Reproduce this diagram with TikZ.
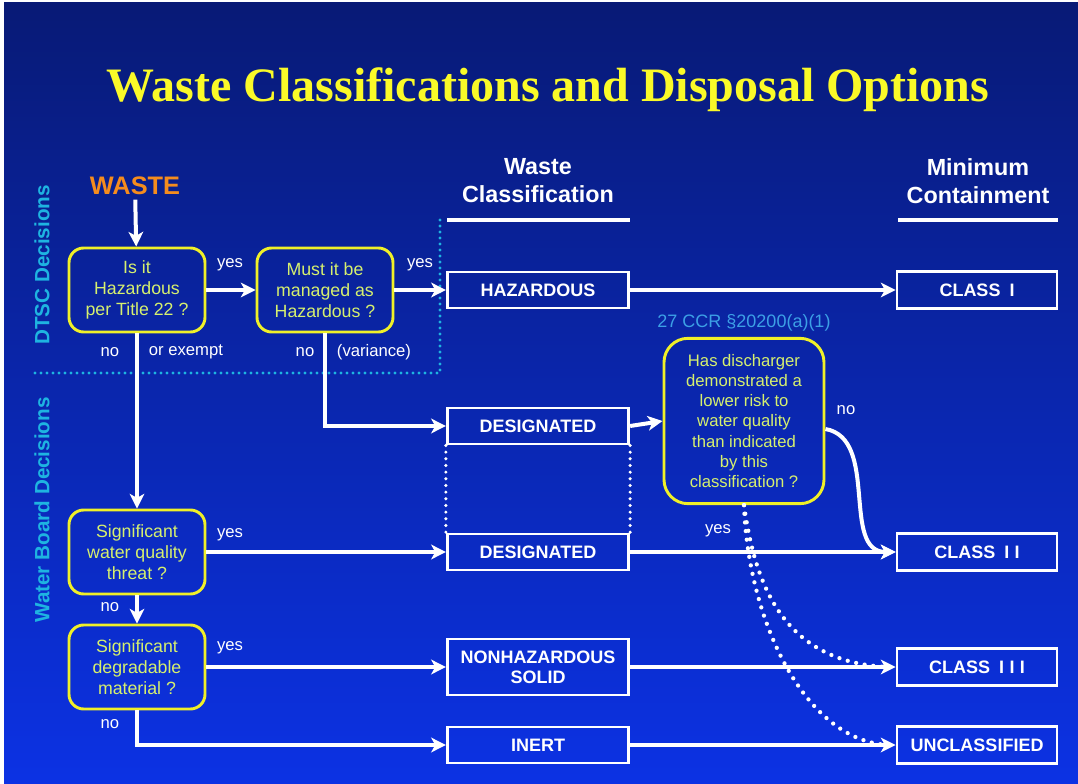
\documentclass[tikz,border=0pt]{standalone}
\usepackage{fontspec}
\setmainfont{Liberation Sans}
\newfontfamily\titlefont{Liberation Serif}
\usetikzlibrary{arrows.meta}
\definecolor{bgtop}{RGB}{8,26,118}
\definecolor{bgbot}{RGB}{12,50,228}
\definecolor{qtext}{RGB}{214,240,110}
\definecolor{qframe}{RGB}{240,240,40}
\definecolor{titleyel}{RGB}{250,250,40}
\definecolor{wasteor}{RGB}{245,140,30}
\definecolor{zonecyan}{RGB}{30,180,225}
\definecolor{refblue}{RGB}{60,160,230}

\begin{document}
\begin{tikzpicture}[
    x=0.75pt,y=-0.75pt,
    question/.style={draw=qframe,line width=2.2pt,rounded corners=11pt,
                     text=qtext,align=center,inner sep=2pt,
                     font={\fontsize{13.3}{15.5}\selectfont},
                     minimum width=102pt,minimum height=63pt},
    classbox/.style={draw=white,line width=2.2pt,text=white,align=center,
                     font={\fontsize{13.5}{15}\selectfont\bfseries},
                     minimum width=136pt,minimum height=27pt,inner sep=1pt},
    containbox/.style={classbox,minimum width=120pt,minimum height=28pt},
    flow/.style={draw=white,line width=3pt,
                 -{Stealth[length=11pt,width=11pt,inset=3pt]}},
    dotline/.style={draw=white,line width=2.6pt,line cap=round,
                    dash pattern=on 0pt off 5pt},
    dotcurve/.style={dotline,line width=3.2pt,dash pattern=on 0pt off 6.5pt},
    zoneline/.style={draw=zonecyan,line width=2.6pt,line cap=round,
                     dash pattern=on 0pt off 4.5pt},
    answer/.style={text=white,font={\fontsize{12.5}{15}\selectfont}},
    header/.style={text=white,align=center,
                   font={\fontsize{17.5}{21}\selectfont\bfseries}},
    zone/.style={rotate=90,text=zonecyan,
                 font={\fontsize{15.5}{18}\selectfont\bfseries}},
  ]
  % Background
  \fill[white] (0,0) rectangle (1078,784);
  \shade[top color=bgtop,bottom color=bgbot] (4,3) rectangle (1078,784);
  \useasboundingbox (0,0) rectangle (1078,784);

  % Title and column heads
  \node[text=titleyel,font={\titlefont\bfseries\fontsize{36}{40}\selectfont}] (title) at (548,90)
    {Waste Classifications and Disposal Options};
  \node[header] (hclass) at (538,181) {Waste\\Classification};
  \node[header] (hcontain) at (978,181) {Minimum\\Containment};
  \draw[white,line width=3pt] (447,220) -- (630,220);
  \draw[white,line width=3pt] (898,220) -- (1058,220);

  % Decision zones
  \node[zone] (dtsc) at (42,265) {DTSC Decisions};
  \node[zone] (wboard) at (42,510) {Water Board Decisions};
  \draw[zoneline] (35,373) -- (440,373) -- (440,218);

  % Questions
  \node[text=wasteor,font={\fontsize{19}{22}\selectfont\bfseries}] (waste) at (135,186) {WASTE};
  \node[question] (hazq) at (137,290) {Is it\\Hazardous\\per Title 22 ?};
  \node[question] (mgdq) at (325,290) {Must it be\\managed as\\Hazardous ?};
  \node[question] (wqt) at (137,552) {Significant\\water quality\\threat ?};
  \node[question] (degr) at (137,667) {Significant\\degradable\\material ?};
  \node[question,minimum width=120pt,minimum height=124pt,rounded corners=18pt,
        font={\fontsize{12.5}{15.2}\selectfont}] (risk) at (744,421)
    {Has discharger\\demonstrated a\\lower risk to\\water quality\\than indicated\\by this\\classification ?};
  \node[text=refblue,font={\fontsize{13.5}{15}\selectfont}] (ccr) at (744,323) {27 CCR §20200(a)(1)};

  % Waste classification
  \node[classbox] (haz) at (538,290) {HAZARDOUS};
  \node[classbox] (desa) at (538,426) {DESIGNATED};
  \node[classbox] (desb) at (538,552) {DESIGNATED};
  \node[classbox,minimum height=42pt] (nonhaz) at (538,667) {NONHAZARDOUS\\SOLID};
  \node[classbox] (inert) at (538,745) {INERT};

  % Minimum containment
  \node[containbox] (cla) at (977,290) {CLASS\hspace{0.5em}I};
  \node[containbox] (clb) at (977,552) {CLASS\hspace{0.5em}I\hspace{0.3em}I};
  \node[containbox] (clc) at (977,667) {CLASS\hspace{0.5em}I\hspace{0.3em}I\hspace{0.3em}I};
  \node[containbox] (uncl) at (977,745) {UNCLASSIFIED};

  % Answers
  \node[answer] (yesa) at (230,265) {yes};
  \node[answer] (yesb) at (420,265) {yes};
  \node[answer] (noa) at (110,352) {no};
  \node[answer] (exempt) at (186,352) {or exempt};
  \node[answer] (nob) at (305,352) {no};
  \node[answer] (variance) at (374,352) {(variance)};
  \node[answer] (noc) at (846,410) {no};
  \node[answer] (yesc) at (718,531) {yes};
  \node[answer] (yesd) at (230,535) {yes};
  \node[answer] (nod) at (110,607) {no};
  \node[answer] (yese) at (230,648) {yes};
  \node[answer] (noe) at (110,724) {no};

  % Connectors
  \draw[flow] (waste) -- (hazq);
  \draw[flow] (hazq) -- (mgdq);
  \draw[flow] (mgdq) -- (haz);
  \draw[flow] (haz) -- (cla);
  \draw[flow] (hazq) -- (wqt);
  \draw[flow] (mgdq.south) |- (desa.west);
  \draw[flow] (desa.east) -- (risk.west);
  \draw[flow] ([yshift=-6pt]risk.east) to[out=-10,in=180] (clb.west);
  \draw[flow] (wqt) -- (desb);
  \draw[flow] (desb) -- (clb);
  \draw[flow] (wqt) -- (degr);
  \draw[flow] (degr) -- (nonhaz);
  \draw[flow] (nonhaz) -- (clc);
  \draw[flow] (degr.south) |- (inert.west);
  \draw[flow] (inert) -- (uncl);

  % Dotted links
  \draw[dotline] (desa.south west) -- (desb.north west);
  \draw[dotline] (desa.south east) -- (desb.north east);
  \draw[dotcurve] (risk.south) .. controls +(10,70) and +(-110,-5) .. ([xshift=-6pt]clc.west);
  \draw[dotcurve] (risk.south) .. controls +(4,115) and +(-83,-5) .. ([xshift=-6pt]uncl.west);
\end{tikzpicture}
\end{document}
